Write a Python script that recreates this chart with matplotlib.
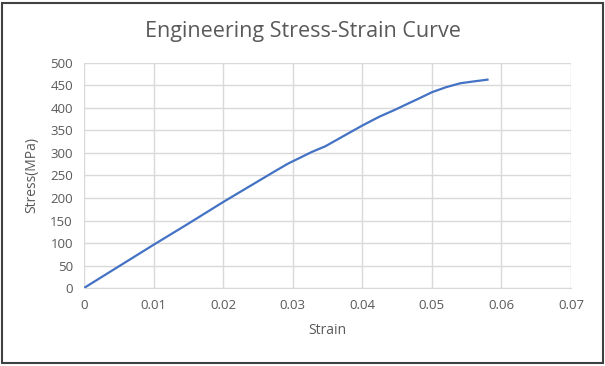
import matplotlib.pyplot as plt
from matplotlib.patches import Rectangle

# values
strain = [0, 0.005, 0.01, 0.015, 0.02, 0.025, 0.0275, 0.0294, 0.031, 0.0327,
          0.0347, 0.037, 0.04, 0.0425, 0.0447, 0.0466, 0.048, 0.05, 0.052,
          0.0541, 0.056, 0.058]
stress = [0, 48, 96, 143, 191, 237, 260, 277, 289, 302,
          315, 335, 361, 381, 396, 410, 420, 435, 446,
          455, 459, 463]

x_ticks = [0, 0.01, 0.02, 0.03, 0.04, 0.05, 0.06, 0.07]
x_labels = ['0', '0.01', '0.02', '0.03', '0.04', '0.05', '0.06', '0.07']
y_ticks = list(range(0, 501, 50))

text_color = '#595959'
grid_color = '#d9d9d9'
plt.rcParams['font.family'] = ['Open Sans', 'DejaVu Sans']

fig = plt.figure(figsize=(6.05, 3.66), dpi=100)
ax = fig.add_axes([0.1388, 0.2131, 0.805, 0.6148])

ax.plot(strain, stress, color='#4472c4', linewidth=1.6)

ax.set_xlim(0, 0.07)
ax.set_ylim(0, 500)
ax.set_xticks(x_ticks)
ax.set_xticklabels(x_labels)
ax.set_yticks(y_ticks)
ax.grid(True, color=grid_color, linewidth=1)
ax.set_axisbelow(True)
for side in ['top', 'right', 'left']:
    ax.spines[side].set_visible(False)
ax.spines['bottom'].set_color(grid_color)
ax.tick_params(length=0, colors=text_color, labelsize=9.5, pad=8)

ax.set_xlabel('Strain', color=text_color, fontsize=10, labelpad=8)
ax.set_ylabel('Stress(MPa)', color=text_color, fontsize=10, labelpad=8)
fig.text(0.5, 0.915, 'Engineering Stress-Strain Curve', ha='center', va='center',
         color=text_color, fontsize=15.5)

# outer frame of the chart
fig.patches.append(Rectangle((0.004, 0.008), 0.993, 0.985, transform=fig.transFigure,
                             fill=False, edgecolor='#404040', linewidth=1.5))

fig.savefig('out.png', dpi=100)
